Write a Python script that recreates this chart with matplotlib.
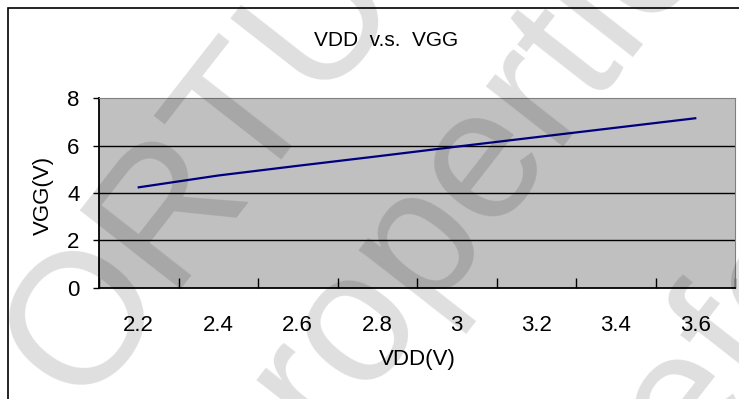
import numpy as np
import matplotlib.pyplot as plt
from matplotlib.patches import Rectangle

# data
vdd = ['2.2', '2.4', '2.6', '2.8', '3', '3.2', '3.4', '3.6']
vgg = [4.24, 4.74, 5.15, 5.55, 5.96, 6.36, 6.76, 7.16]
y_ticks = [0, 2, 4, 6, 8]

W, H = 739, 399
plt.rcParams['font.family'] = ['Liberation Sans', 'DejaVu Sans']

fig = plt.figure(figsize=(W / 100, H / 100), dpi=100)
fig.patch.set_facecolor('white')

# outer chart frame (runs off the right and bottom edges)
fig.patches.append(Rectangle((8 / W, -0.1), 1.2, 1 - 8 / H + 0.1, transform=fig.transFigure,
                             fill=False, edgecolor='black', linewidth=1.2))

ax = fig.add_axes([99 / W, 1 - 287.6 / H, (735 - 99) / W, (287.6 - 98.4) / H])
ax.set_facecolor('#c0c0c0')

x = np.arange(len(vdd))
ax.plot(x, vgg, color='#000080', linewidth=1.6, zorder=3)

ax.set_xlim(-0.5, len(vdd) - 0.5)
ax.set_ylim(0, 8)
ax.set_yticks(y_ticks)
ax.set_yticklabels([str(v) for v in y_ticks], fontsize=16)
ax.set_xticks(x)
ax.set_xticklabels(vdd, fontsize=16)
ax.set_xticks(np.arange(len(vdd) + 1) - 0.5, minor=True)
ax.tick_params(axis='x', which='major', length=0, pad=20)
ax.tick_params(axis='x', which='minor', direction='in', length=7, width=1)
ax.tick_params(axis='y', direction='out', length=4, width=1, pad=10)

for v in y_ticks[1:-1]:
    ax.axhline(v, color='black', linewidth=1.0, zorder=1)

for s in ['top', 'right']:
    ax.spines[s].set_color('#808080')
for s in ['left', 'bottom']:
    ax.spines[s].set_color('black')
    ax.spines[s].set_linewidth(1.3)

fig.text(386 / W, 1 - 40 / H, 'VDD  v.s.  VGG', ha='center', va='center', fontsize=15)
fig.text(417 / W, 1 - 360 / H, 'VDD(V)', ha='center', va='center', fontsize=16)
fig.text(43 / W, 1 - 195 / H, 'VGG(V)', ha='center', va='center', rotation=90, fontsize=16)

# watermark, anchored at the left end of each baseline (pixels from top-left)
wm = dict(color='black', alpha=0.13, rotation=52, rotation_mode='anchor', ha='left',
          va='baseline', fontsize=134, transform=fig.transFigure, zorder=10)
for txt, px, py in [('ORTU', 80, 408), ('properties', 258, 522), ('reference', 651, 518)]:
    fig.text(px / W, 1 - py / H, txt, **wm)

fig.savefig('out.png', dpi=100)
